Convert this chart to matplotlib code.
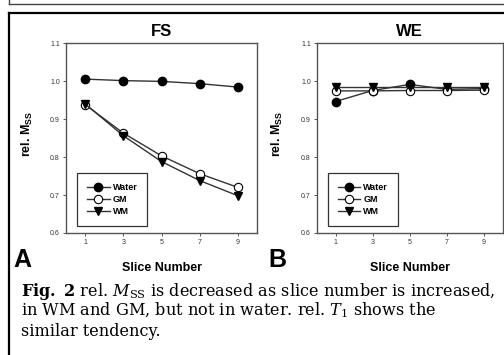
# Fig. 2 - relative Mss vs slice number, FS and WE panels
import numpy as np
import matplotlib
matplotlib.use('Agg')
import matplotlib.pyplot as plt
from matplotlib.lines import Line2D

# caption serif is wide in the picture, DejaVu Serif fits its width best
plt.rcParams['mathtext.fontset'] = 'custom'
plt.rcParams['mathtext.rm'] = 'DejaVu Serif'
plt.rcParams['mathtext.it'] = 'DejaVu Serif:italic'
plt.rcParams['mathtext.bf'] = 'DejaVu Serif:bold'
plt.rcParams['mathtext.sf'] = 'Liberation Sans:bold'

# data
slices = [1, 3, 5, 7, 9]
fs_water = [1.005, 1.001, 0.999, 0.993, 0.984]
fs_gm = [0.938, 0.863, 0.803, 0.756, 0.720]
fs_wm = [0.940, 0.856, 0.788, 0.738, 0.698]
we_water = [0.946, 0.975, 0.991, 0.978, 0.980]
we_gm = [0.974, 0.974, 0.975, 0.975, 0.976]
we_wm = [0.985, 0.985, 0.985, 0.985, 0.985]
yticks = [0.6, 0.7, 0.8, 0.9, 1.0, 1.1]

W, H = 504, 355
fig = plt.figure(figsize=(W / 100, H / 100), dpi=100)

def px(x, y):
    return x / W, 1 - y / H

sans = 'Liberation Sans'
line_col = '#333333'
spine_col = '#555555'

def panel(left, right, title, water, gm, wm):
    x0, y1 = px(left, 43)
    x1, y0 = px(right, 233)
    ax = fig.add_axes([x0, y0, x1 - x0, y1 - y0])
    ax.plot(slices, water, '-o', color=line_col, lw=1, ms=6,
            mfc='black', mec='black', label='Water')
    ax.plot(slices, gm, '-o', color=line_col, lw=1, ms=6,
            mfc='white', mec='black', mew=0.8, label='GM')
    ax.plot(slices, wm, '-v', color=line_col, lw=1, ms=6,
            mfc='black', mec='black', label='WM')
    ax.set_xlim(0, 10)
    ax.set_ylim(0.6, 1.1)
    ax.set_xticks(slices)
    ax.set_yticks(yticks)
    ax.set_yticklabels(['%.1f' % v for v in yticks])
    ax.tick_params(labelsize=5, length=2.5, width=0.7, color=spine_col, pad=2)
    for s in ax.spines.values():
        s.set_color(spine_col)
        s.set_linewidth(1)
    for lab in ax.get_xticklabels() + ax.get_yticklabels():
        lab.set_family(sans)
        lab.set_color('#333333')
    ax.set_title(title, fontsize=12, fontweight='bold', family=sans, pad=5)
    leg = ax.legend(loc='lower left', bbox_to_anchor=(0.058, 0.037),
                    borderaxespad=0, fancybox=False, edgecolor='black',
                    prop={'family': sans, 'weight': 'bold', 'size': 6.5},
                    handlelength=2.5, handletextpad=0.35, borderpad=1.1,
                    labelspacing=0.35)
    leg.get_frame().set_linewidth(0.9)
    return ax

ax1 = panel(66, 257, 'FS', fs_water, fs_gm, fs_wm)
ax2 = panel(317, 502.5, 'WE', we_water, we_gm, we_wm)

# axis labels
for cx, ylx in [(161.5, 27), (410, 277)]:
    fig.text(*px(cx, 268), 'Slice Number', ha='center', va='center',
             fontsize=9, fontweight='bold', family=sans)
    fig.text(*px(ylx, 134), r'rel. $\mathsf{M}_{\mathsf{SS}}$', ha='center',
             va='center', rotation=90, fontsize=9, fontweight='bold', family=sans)

# panel letters
fig.text(*px(13, 267), 'A', fontsize=18, fontweight='bold', family=sans,
         ha='left', va='baseline')
fig.text(*px(268, 267), 'B', fontsize=18, fontweight='bold', family=sans,
         ha='left', va='baseline')

# caption
cap = [r'$\mathbf{Fig.\ 2}$ rel. $M_{\mathrm{SS}}$ is decreased as slice number is increased,',
       r'in WM and GM, but not in water. rel. $T_{\mathrm{1}}$ shows the',
       'similar tendency.']
for i, line in enumerate(cap):
    fig.text(*px(21, 295.5 + 20 * i), line, fontsize=11.6, family='DejaVu Serif',
             ha='left', va='baseline')

# frame lines
def hline(y, x0, x1, lw, c):
    fig.add_artist(Line2D([x0 / W, x1 / W], [1 - y / H, 1 - y / H], lw=lw, color=c))

def vline(x, y0, y1, lw, c):
    fig.add_artist(Line2D([x / W, x / W], [1 - y0 / H, 1 - y1 / H], lw=lw, color=c))

hline(4, 9, W, 1, '#444444')
vline(9, 0, 4, 1, '#444444')
hline(12.5, 9, W, 1.6, 'black')
vline(9, 12.5, H, 1.6, 'black')

fig.savefig('out.png', dpi=100)
